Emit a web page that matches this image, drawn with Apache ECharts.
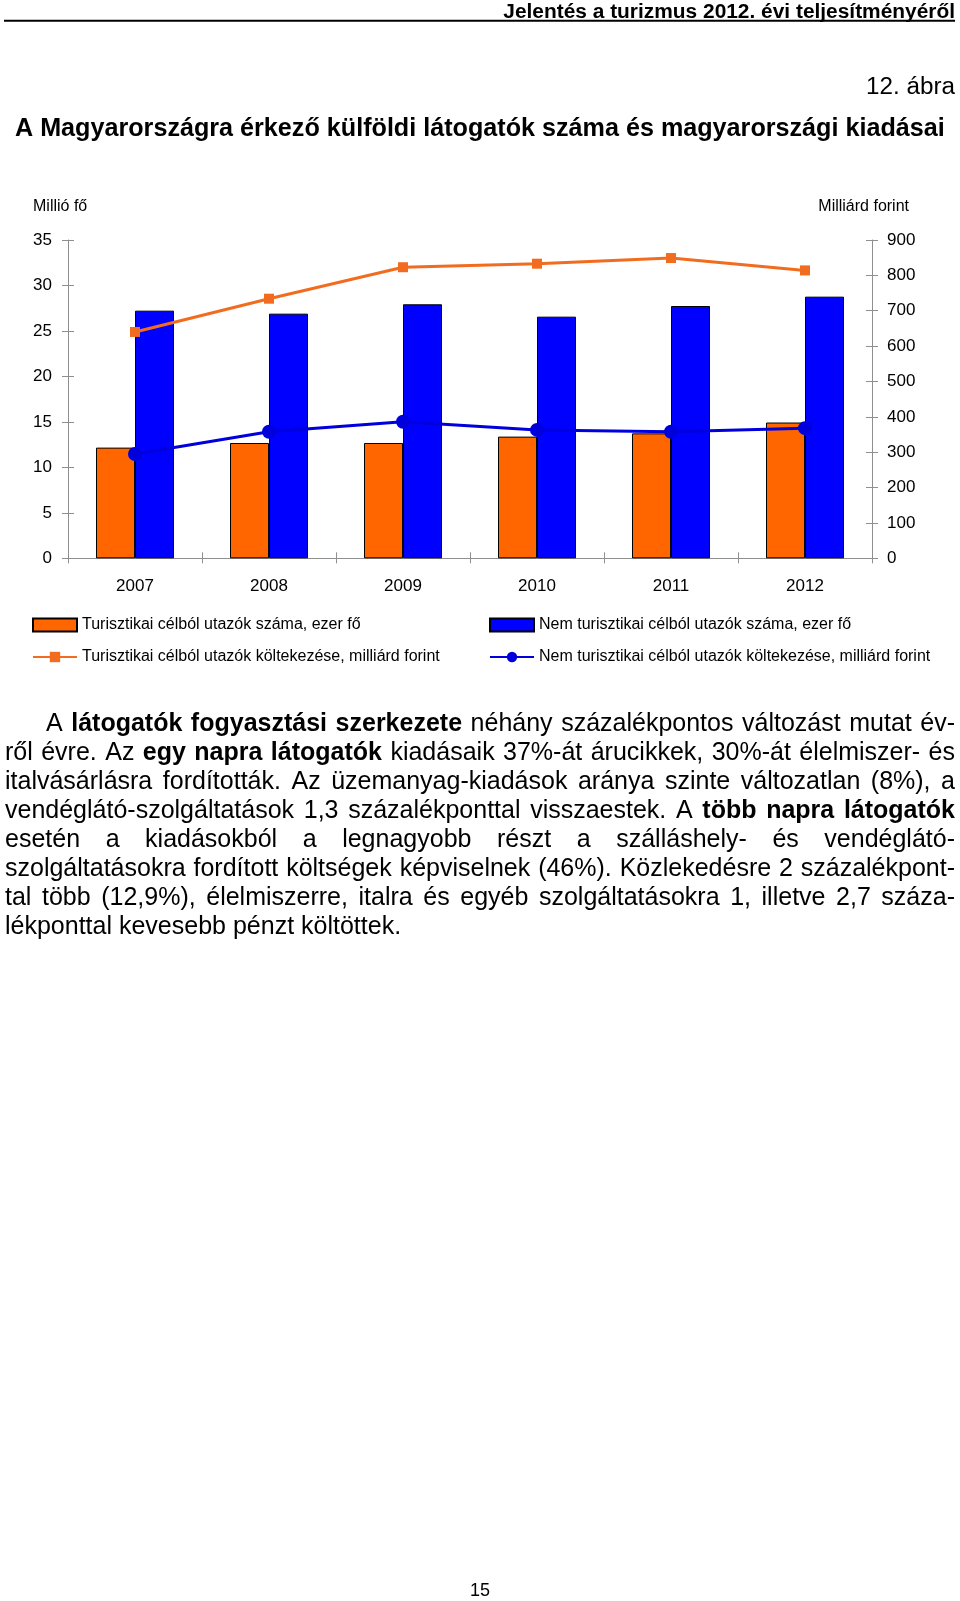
<!DOCTYPE html>
<html><head><meta charset="utf-8">
<script src="https://cdn.jsdelivr.net/npm/echarts@6/dist/echarts.min.js"></script>
<style>html,body{margin:0;padding:0;background:#fff}#c{width:960px;height:1601px}</style>
</head><body><div id="c"></div>
<script>
// ---- data ----
const years = ['2007', '2008', '2009', '2010', '2011', '2012'];
const touristVisitors = [12.17, 12.68, 12.68, 13.38, 13.74, 14.93];      // millió fő
const nonTouristVisitors = [27.23, 26.90, 27.93, 26.57, 27.74, 28.77];   // millió fő
const touristSpending = [640, 734, 823, 833, 849, 814];                  // milliárd forint
const nonTouristSpending = [295, 358, 386, 363, 358, 368];               // milliárd forint
const leftAxisRange = { min: 0, max: 35, interval: 5 };
const rightAxisRange = { min: 0, max: 900, interval: 100 };
const seriesNames = [
  'Turisztikai célból utazók száma, ezer fő',
  'Nem turisztikai célból utazók száma, ezer fő',
  'Turisztikai célból utazók költekezése, milliárd forint',
  'Nem turisztikai célból utazók költekezése, milliárd forint'
];
const headerText = 'Jelentés a turizmus 2012. évi teljesítményéről';
const figureLabel = '12. ábra';
const titleText = 'A Magyarországra érkező külföldi látogatók száma és magyarországi kiadásai';
const leftAxisName = 'Millió fő';
const rightAxisName = 'Milliárd forint';
const pageNumber = '15';
const bodyLines = [
  [['A ', 0], ['látogatók fogyasztási szerkezete', 1], [' néhány százalékpontos változást mutat év-', 0]],
  [['ről évre. Az ', 0], ['egy napra látogatók', 1], [' kiadásaik 37%-át árucikkek, 30%-át élelmiszer- és', 0]],
  [['italvásárlásra fordították. Az üzemanyag-kiadások aránya szinte változatlan (8%), a', 0]],
  [['vendéglátó-szolgáltatások 1,3 százalékponttal visszaestek. A ', 0], ['több napra látogatók', 1]],
  [['esetén a kiadásokból a legnagyobb részt a szálláshely- és vendéglátó-', 0]],
  [['szolgáltatásokra fordított költségek képviselnek (46%). Közlekedésre 2 százalékpont-', 0]],
  [['tal több (12,9%), élelmiszerre, italra és egyéb szolgáltatásokra 1, illetve 2,7 száza-', 0]],
  [['lékponttal kevesebb pénzt költöttek.', 0]]
];

// ---- helpers ----
const FF = '"Liberation Sans", Arial, sans-serif';
const mctx = document.createElement('canvas').getContext('2d');
function measure(t, size, bold) {
  mctx.font = (bold ? 'bold ' : '') + size + 'px "Liberation Sans", Arial, sans-serif';
  return mctx.measureText(t).width;
}
function fitSize(t, width, bold) { return 100 * width / measure(t, 100, bold); }
function txt(text, x, y, size, opts) {
  opts = opts || {};
  return {
    type: 'text', x: x, y: y, silent: true,
    style: {
      text: text, fontSize: size, fontFamily: FF, fontWeight: opts.bold ? 'bold' : 'normal',
      fill: '#000', textAlign: opts.align || 'left', textVerticalAlign: 'middle'
    }
  };
}

const graphics = [];
// header
const hSize = fitSize(headerText, 452, true);
graphics.push(txt(headerText, 955, 12, hSize, { bold: true, align: 'right' }));
graphics.push({ type: 'line', silent: true, shape: { x1: 4, y1: 20.7, x2: 955, y2: 20.7 }, style: { stroke: '#000', lineWidth: 2 } });
graphics.push(txt(figureLabel, 955, 87, fitSize(figureLabel, 89, false), { align: 'right' }));
graphics.push(txt(titleText, 15, 129, fitSize(titleText, 930, true), { bold: true }));
graphics.push(txt(leftAxisName, 33, 207, 16));
graphics.push(txt(rightAxisName, 909, 207, 16, { align: 'right' }));
graphics.push(txt(pageNumber, 480, 1591, 18, { align: 'center' }));

// body text (justified)
const BODY = 25, LEFT = 5, RIGHT = 955, INDENT = 46, TOP = 724, LH = 29.0;
bodyLines.forEach(function (segs, i) {
  const words = [];
  segs.forEach(function (s) {
    s[0].split(' ').forEach(function (w) { if (w) words.push({ t: w, b: s[1] }); });
  });
  const x0 = i === 0 ? INDENT : LEFT;
  let sum = 0;
  words.forEach(function (w) { w.w = measure(w.t, BODY, w.b); sum += w.w; });
  const last = i === bodyLines.length - 1;
  const gap = last ? measure(' ', BODY, false) : (RIGHT - x0 - sum) / (words.length - 1);
  let x = x0;
  const y = TOP + i * LH;
  words.forEach(function (w) {
    graphics.push(txt(w.t, x, y, BODY, { bold: w.b }));
    x += w.w + gap;
  });
});

// ---- chart ----
const axisColor = '#8f8f8f';
const labelStyle = { color: '#000', fontSize: 17, fontFamily: FF };
const legendText = { color: '#000', fontSize: 16, lineHeight: 16, fontFamily: FF };
const chart = echarts.init(document.getElementById('c'), null, { renderer: 'canvas' });
chart.setOption({
  animation: false,
  backgroundColor: '#fff',
  textStyle: { fontFamily: FF },
  grid: { left: 68, right: 88, top: 240, bottom: 1042.7, containLabel: false },
  legend: [
    {
      left: 32, top: 617, orient: 'vertical', itemWidth: 44, itemHeight: 13, itemGap: 16, padding: 0,
      selectedMode: false, textStyle: legendText,
      data: [{ name: seriesNames[0], icon: 'rect' }, { name: seriesNames[2] }]
    },
    {
      left: 489, top: 617, orient: 'vertical', itemWidth: 44, itemHeight: 13, itemGap: 16, padding: 0,
      selectedMode: false, textStyle: legendText,
      data: [{ name: seriesNames[1], icon: 'rect' }, { name: seriesNames[3] }]
    }
  ],
  xAxis: [
    {
      type: 'category', data: years, position: 'bottom',
      axisLine: { show: true, lineStyle: { color: axisColor, width: 1 } },
      axisTick: { show: true, length: 5, lineStyle: { color: axisColor } },
      axisLabel: Object.assign({ margin: 20 }, labelStyle),
      splitLine: { show: false }
    },
    {
      type: 'category', data: years, position: 'bottom',
      axisLine: { show: false },
      axisTick: { show: true, inside: true, length: 6, lineStyle: { color: axisColor } },
      axisLabel: { show: false }, splitLine: { show: false }
    }
  ],
  yAxis: [
    Object.assign({
      type: 'value', position: 'left',
      axisLine: { show: true, lineStyle: { color: axisColor, width: 1 } },
      axisTick: { show: true, length: 6, lineStyle: { color: axisColor } },
      axisLabel: Object.assign({ margin: 16 }, labelStyle),
      splitLine: { show: false }
    }, leftAxisRange),
    Object.assign({
      type: 'value', position: 'right',
      axisLine: { show: true, lineStyle: { color: axisColor, width: 1 } },
      axisTick: { show: true, length: 6, lineStyle: { color: axisColor } },
      axisLabel: Object.assign({ margin: 15 }, labelStyle),
      splitLine: { show: false }
    }, rightAxisRange),
    Object.assign({
      type: 'value', position: 'left',
      axisLine: { show: false },
      axisTick: { show: true, inside: true, length: 6, lineStyle: { color: axisColor } },
      axisLabel: { show: false }, splitLine: { show: false }
    }, leftAxisRange),
    Object.assign({
      type: 'value', position: 'right',
      axisLine: { show: false },
      axisTick: { show: true, inside: true, length: 6, lineStyle: { color: axisColor } },
      axisLabel: { show: false }, splitLine: { show: false }
    }, rightAxisRange)
  ],
  series: [
    {
      name: seriesNames[0], type: 'bar', yAxisIndex: 0, data: touristVisitors,
      barWidth: 39, barGap: '0%',
      itemStyle: { color: '#FF6600', borderColor: '#000', borderWidth: 1 }
    },
    {
      name: seriesNames[1], type: 'bar', yAxisIndex: 0, data: nonTouristVisitors,
      barWidth: 39, barGap: '0%',
      itemStyle: { color: '#0000FF', borderColor: '#000', borderWidth: 1 }
    },
    {
      name: seriesNames[2], type: 'line', yAxisIndex: 1, data: touristSpending,
      symbol: 'rect', symbolSize: 10, z: 5,
      lineStyle: { color: '#F26C1F', width: 3 },
      itemStyle: { color: '#F26C1F' }
    },
    {
      name: seriesNames[3], type: 'line', yAxisIndex: 1, data: nonTouristSpending,
      symbol: 'circle', symbolSize: 14, z: 5,
      lineStyle: { color: '#0000DD', width: 3 },
      itemStyle: { color: '#0000DD' }
    }
  ],
  graphic: { elements: graphics }
});
</script>
</body></html>
